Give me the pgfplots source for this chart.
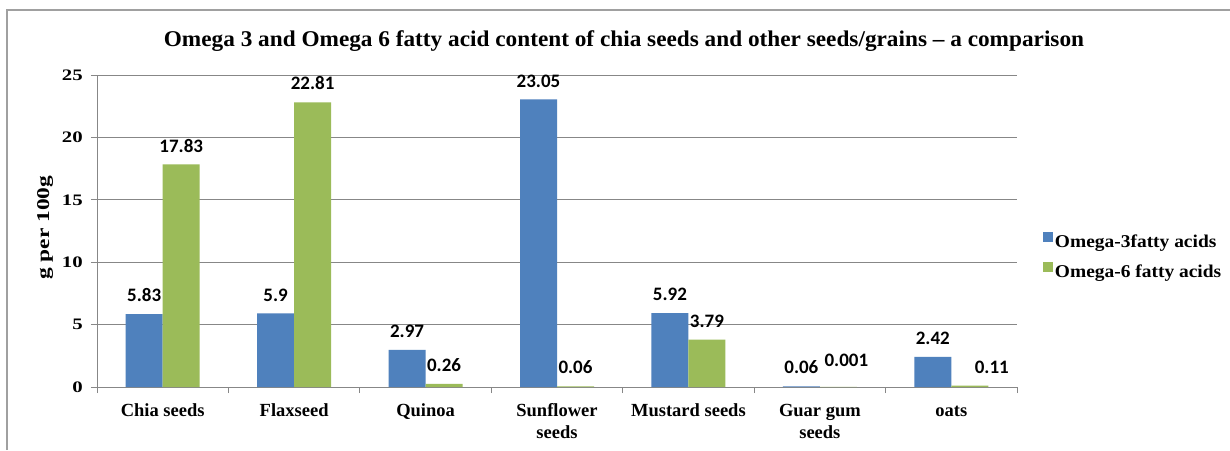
\documentclass[border=0pt]{standalone}
\usepackage{pgfplots}
\pgfplotsset{compat=1.18}
\usepackage{pgfplotstable}
\usepackage{fontspec}
\setmainfont{Liberation Serif}
\newfontfamily\carlito{Carlito}
\definecolor{ser1}{HTML}{4F81BD}
\definecolor{ser2}{HTML}{9BBB59}
\definecolor{gridc}{HTML}{878787}
\definecolor{framec}{HTML}{A0A0A0}

\pgfplotstableread{
x y dx dy lab
0 5.83 0 0 5.83
1 5.9 0 0 5.9
2 2.97 0 0 2.97
3 23.05 0 0 23.05
4 5.92 0 0 5.92
5 0.06 0 0 0.06
6 2.42 0 0 2.42
}\omegathree
\pgfplotstableread{
x y dx dy lab
0 17.83 0 0 17.83
1 22.81 0 0 22.81
2 0.26 0 0 0.26
3 0.06 0 0 0.06
4 3.79 0 0 3.79
5 0.001 8 8 0.001
6 0.11 22 0 0.11
}\omegasix

\newcommand{\st}{\rule{0pt}{13pt}}

\begin{document}
\begin{tikzpicture}
\path[use as bounding box, fill=white] (0,0) rectangle (1230pt,450pt);
\draw[framec, line width=1.5pt] (7pt,0) -- (7pt,440pt) -- (1230pt,440pt);
\begin{axis}[
  at={(97pt,63pt)}, anchor=south west,
  scale only axis, width=920pt, height=312pt,
  xmin=-0.5, xmax=6.5, ymin=0, ymax=25,
  enlarge x limits=false, enlarge y limits=false,
  ybar=0pt, bar width=37pt,
  axis x line*=bottom, axis y line*=left,
  axis line style={draw=gridc, line width=0.8pt, -},
  xtick={-0.5,0.5,...,6.5},
  x tick label as interval,
  xticklabels={\st Chia seeds, \st Flaxseed, \st Quinoa, \st Sunflower\\seeds, \st Mustard seeds, \st Guar gum\\seeds, \st oats},
  xticklabel style={font=\bfseries\fontsize{18.5}{22}\selectfont, align=center, anchor=north, inner sep=0pt, yshift=-10pt},
  ytick={0,5,...,25},
  yticklabel={\scalebox{1.3}[1]{\pgfmathprintnumber{\tick}}},
  yticklabel style={font=\bfseries\fontsize{16}{18}\selectfont, anchor=east, inner sep=0pt, xshift=-8pt},
  /pgf/number format/assume math mode=true,
  ymajorgrids, grid style={draw=gridc, line width=0.8pt},
  tick align=outside, major tick length=6pt,
  tick style={draw=gridc, line width=0.8pt},
  xtick pos=bottom, ytick pos=left,
  ylabel={\scalebox{1.3}[1]{g per 100g}},
  ylabel style={font=\bfseries\fontsize{18}{20}\selectfont, at={(axis description cs:-0.0565,0.51)}, anchor=center},
  title={\scalebox{1.034}[1]{Omega 3 and Omega 6 fatty acid content of chia seeds and other seeds/grains -- a comparison}},
  title style={font=\bfseries\fontsize{22.5}{26}\selectfont, at={(axis description cs:0.5728,1.0737)}, anchor=base, inner sep=0pt},
  point meta=explicit symbolic,
  nodes near coords,
  visualization depends on={\thisrow{dx} \as \dx},
  visualization depends on={\thisrow{dy} \as \dy},
  nodes near coords style={font=\carlito\bfseries\fontsize{19}{19}\selectfont, text=black, inner sep=0pt, anchor=south, yshift=12pt, xshift=\dx pt, yshift=\dy pt},
  legend style={at={(axis description cs:1.028,0.421)}, anchor=west, draw=none, fill=none, inner sep=0pt,
    font=\bfseries\fontsize{18}{20}\selectfont, row sep=13pt,
    nodes={inner xsep=2pt, inner ysep=0pt}},
  legend cell align=left,
  legend image code/.code={\fill[#1, draw=none] (0pt,0pt) rectangle (10pt,10pt);},
]
\addplot[fill=ser1, draw=none] table[x=x, y=y, meta=lab] {\omegathree};
\addlegendentry{\scalebox{1.08}[1]{Omega-3fatty acids}}
\addplot[fill=ser2, draw=none] table[x=x, y=y, meta=lab] {\omegasix};
\addlegendentry{\scalebox{1.08}[1]{Omega-6 fatty acids}}
\end{axis}
\end{tikzpicture}
\end{document}
